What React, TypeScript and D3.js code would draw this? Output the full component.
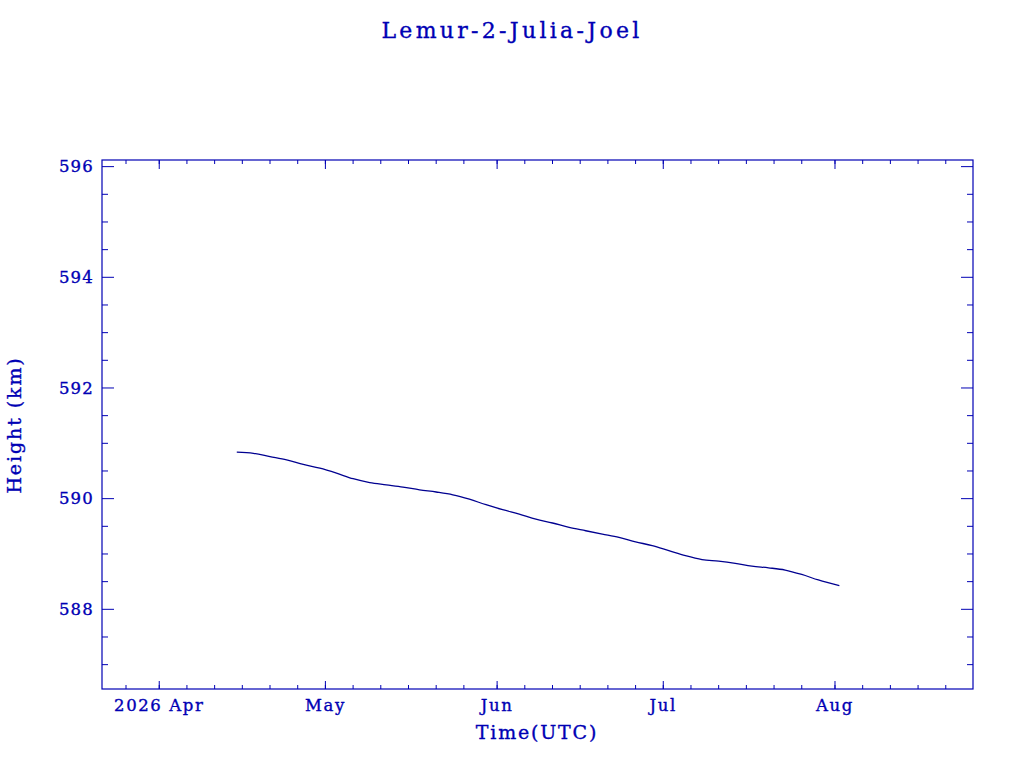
import * as d3 from "d3";

const title = "Lemur-2-Julia-Joel";
const xTitle = "Time(UTC)";
const yTitle = "Height (km)";

// observation times (UTC) and orbital height in km
const times = [
  "2026-04-15", "2026-04-18", "2026-04-21", "2026-04-24", "2026-04-27", "2026-04-30",
  "2026-05-03", "2026-05-06", "2026-05-09", "2026-05-12", "2026-05-15", "2026-05-18",
  "2026-05-21", "2026-05-24", "2026-05-27", "2026-05-30", "2026-06-02", "2026-06-05",
  "2026-06-08", "2026-06-11", "2026-06-14", "2026-06-17", "2026-06-20", "2026-06-23",
  "2026-06-26", "2026-06-29", "2026-07-02", "2026-07-05", "2026-07-08", "2026-07-11",
  "2026-07-14", "2026-07-17", "2026-07-20", "2026-07-23", "2026-07-26", "2026-07-29",
  "2026-08-01T19:00",
];
const heights = [
  590.84, 590.82, 590.76, 590.70, 590.62, 590.55,
  590.46, 590.36, 590.29, 590.25, 590.21, 590.16,
  590.12, 590.07, 589.99, 589.89, 589.80, 589.72,
  589.63, 589.56, 589.48, 589.42, 589.36, 589.30,
  589.22, 589.15, 589.06, 588.97, 588.90, 588.87,
  588.83, 588.78, 588.75, 588.71, 588.63, 588.53,
  588.43,
];

const monthTicks = ["2026-04-01", "2026-05-01", "2026-06-01", "2026-07-01", "2026-08-01"];
const monthLabels = ["2026 Apr", "May", "Jun", "Jul", "Aug"];
const minorDays = [1, 6, 11, 16, 21, 26];
const yMajor = [588, 590, 592, 594, 596];

const blue = "#0000b4";
const font = "'DejaVu Serif', serif";

const margin = { top: 160, right: 51, bottom: 79, left: 102 };
const W = 1024;
const H = 768;
const iw = W - margin.left - margin.right;
const ih = H - margin.top - margin.bottom;

const parse = (s: string) => new Date(s.includes("T") ? s + "Z" : s + "T00:00Z");

export default function App() {
  const x = d3
    .scaleUtc()
    .domain([new Date(Date.UTC(2026, 2, 21, 16)), new Date(Date.UTC(2026, 7, 25, 22))])
    .range([0, iw]);
  const y = d3.scaleLinear().domain([586.56, 596.12]).range([ih, 0]);

  const [d0, d1] = x.domain();
  const minor: Date[] = [];
  for (const m of d3.utcMonth.range(d3.utcMonth.floor(d0), d1)) {
    for (const d of minorDays) {
      const t = new Date(Date.UTC(m.getUTCFullYear(), m.getUTCMonth(), d));
      if (t >= d0 && t <= d1) minor.push(t);
    }
  }
  const yMinor = d3.range(587, 596.01, 0.5).filter((v) => !yMajor.includes(v));

  const pts = times.map((t, i) => [parse(t), heights[i]] as [Date, number]);
  const line = d3
    .line<[Date, number]>()
    .x((d) => x(d[0]))
    .y((d) => y(d[1]))
    .curve(d3.curveMonotoneX);

  const txt = { fill: blue, fontFamily: font, stroke: blue, strokeWidth: 0.35 };

  return (
    <svg width={W} height={H} style={{ position: "absolute", left: 0, top: 0, background: "#fff" }}>
      <text x={512} y={38} textAnchor="middle" {...txt} fontSize={22} letterSpacing={3.3}>
        {title}
      </text>
      <g transform={`translate(${margin.left},${margin.top})`}>
        <rect x={0} y={0} width={iw} height={ih} fill="none" stroke={blue} strokeWidth={1.2} />
        {minor.map((t, i) => (
          <g key={"xm" + i} stroke={blue}>
            <line x1={x(t)} x2={x(t)} y1={ih} y2={ih - 4} />
            <line x1={x(t)} x2={x(t)} y1={0} y2={4} />
          </g>
        ))}
        {monthTicks.map((s, i) => {
          const px = x(parse(s));
          return (
            <g key={"xM" + i}>
              <line x1={px} x2={px} y1={ih} y2={ih - 8} stroke={blue} />
              <line x1={px} x2={px} y1={0} y2={9} stroke={blue} />
              <text x={px} y={ih + 22} textAnchor="middle" {...txt} fontSize={16.5} letterSpacing={1.6}>
                {monthLabels[i]}
              </text>
            </g>
          );
        })}
        {yMinor.map((v) => (
          <g key={"ym" + v} stroke={blue}>
            <line x1={0} x2={6} y1={y(v)} y2={y(v)} />
            <line x1={iw} x2={iw - 6} y1={y(v)} y2={y(v)} />
          </g>
        ))}
        {yMajor.map((v) => (
          <g key={"yM" + v}>
            <line x1={0} x2={12} y1={y(v)} y2={y(v)} stroke={blue} />
            <line x1={iw} x2={iw - 12} y1={y(v)} y2={y(v)} stroke={blue} />
            <text x={-8} y={y(v)} dy="0.35em" textAnchor="end" {...txt} fontSize={16.5} letterSpacing={1.2}>
              {v}
            </text>
          </g>
        ))}
        <path d={line(pts) ?? ""} fill="none" stroke="#000090" strokeWidth={1.3} />
      </g>
      <text x={537} y={739} textAnchor="middle" {...txt} fontSize={19} letterSpacing={1.8}>
        {xTitle}
      </text>
      <text transform={`translate(21,425) rotate(-90)`} textAnchor="middle" {...txt} fontSize={19} letterSpacing={1.9}>
        {yTitle}
      </text>
    </svg>
  );
}
